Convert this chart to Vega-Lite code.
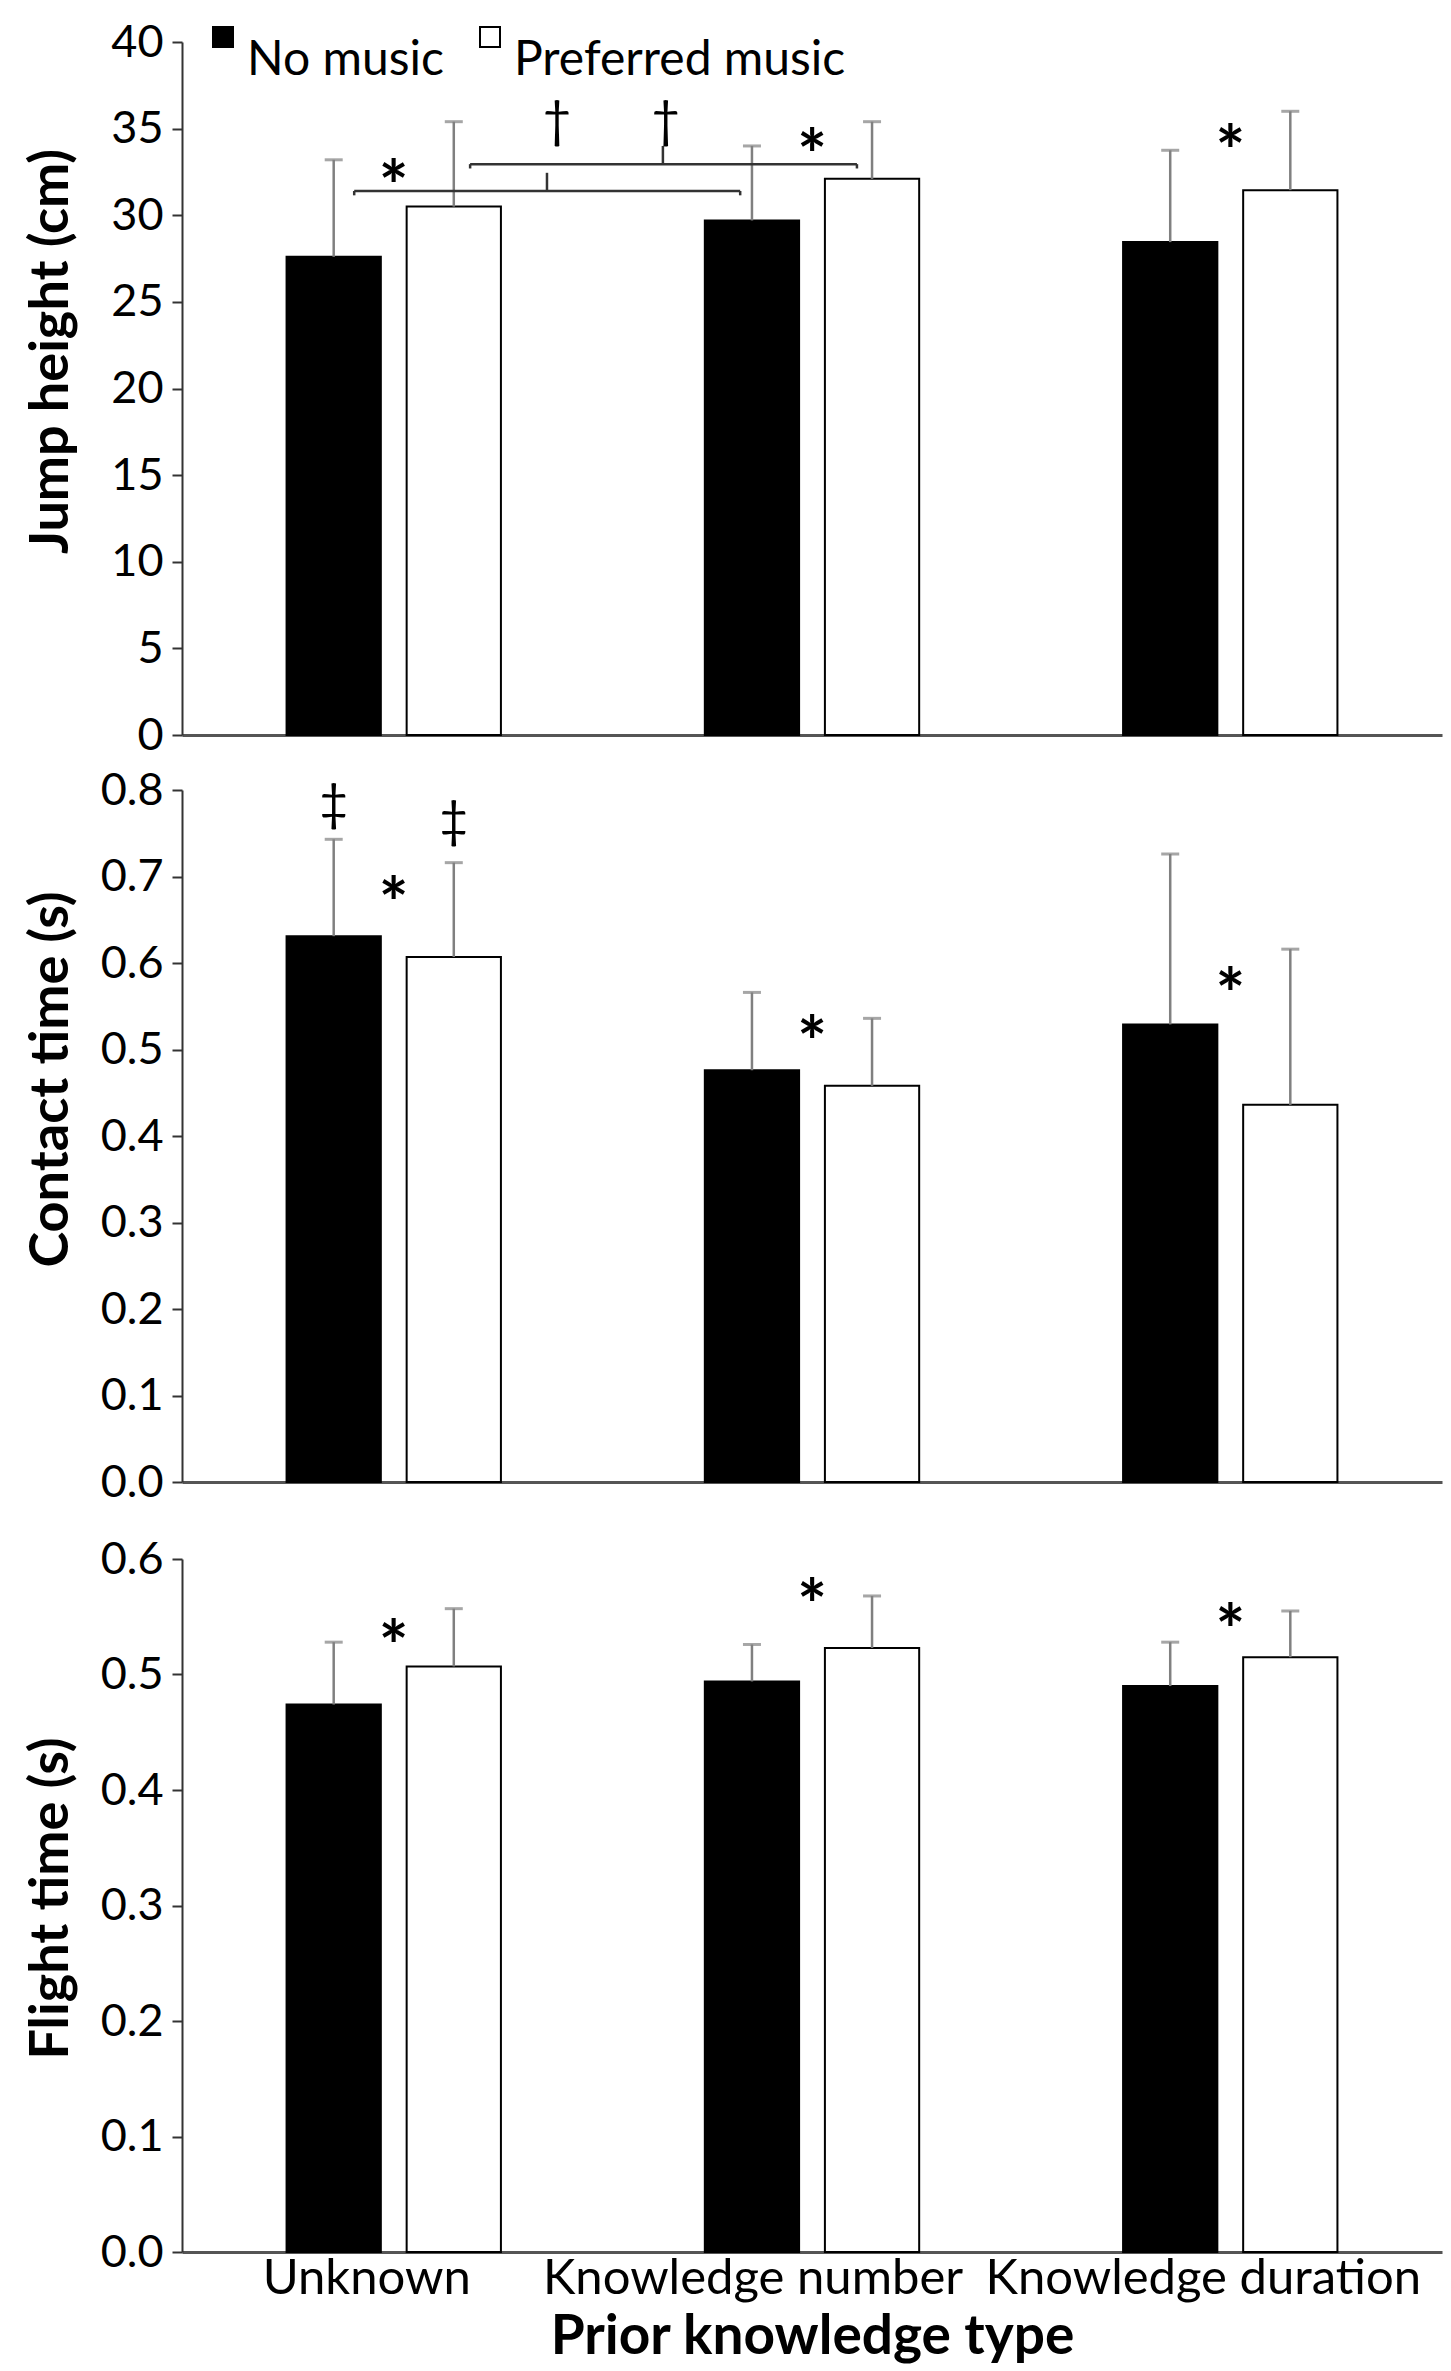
{
  "$schema": "https://vega.github.io/schema/vega-lite/v6.json",
  "description": "Jump height, contact time and flight time by prior knowledge type and music condition",
  "padding": {"left": 23, "top": 13, "right": 5, "bottom": 5},
  "background": "white",
  "config": {
    "view": {"stroke": null},
    "font": "Lato",
    "axis": {
      "labelFont": "Lato",
      "titleFont": "Lato",
      "labelColor": "black",
      "titleColor": "black",
      "domainColor": "#333",
      "tickColor": "#333",
      "grid": false
    },
    "axisY": {
      "labelFontSize": 45,
      "labelPadding": 9,
      "tickSize": 10,
      "tickWidth": 2,
      "domainWidth": 2,
      "titleFontSize": 54,
      "titleFontWeight": "bold",
      "titleBaseline": "alphabetic",
      "titleAngle": -90,
      "titleAlign": "center",
      "titleX": -115
    },
    "axisX": {
      "ticks": false,
      "domainColor": "#555",
      "domainWidth": 3,
      "labelAngle": 0,
      "labelOverlap": false,
      "labelFlush": false,
      "labelLimit": 600
    }
  },
  "datasets": {
    "bars": [
      {"panel": "jump", "group": "Unknown", "cond": "No music", "mean": 27.6, "upper": 33.2},
      {"panel": "jump", "group": "Unknown", "cond": "Preferred music", "mean": 30.5, "upper": 35.4},
      {"panel": "jump", "group": "Knowledge number", "cond": "No music", "mean": 29.7, "upper": 34.0},
      {"panel": "jump", "group": "Knowledge number", "cond": "Preferred music", "mean": 32.1, "upper": 35.4},
      {"panel": "jump", "group": "Knowledge duration", "cond": "No music", "mean": 28.45, "upper": 33.75},
      {"panel": "jump", "group": "Knowledge duration", "cond": "Preferred music", "mean": 31.45, "upper": 36.0},
      {"panel": "contact", "group": "Unknown", "cond": "No music", "mean": 0.631, "upper": 0.743},
      {"panel": "contact", "group": "Unknown", "cond": "Preferred music", "mean": 0.607, "upper": 0.716},
      {"panel": "contact", "group": "Knowledge number", "cond": "No music", "mean": 0.476, "upper": 0.566},
      {"panel": "contact", "group": "Knowledge number", "cond": "Preferred music", "mean": 0.458, "upper": 0.536},
      {"panel": "contact", "group": "Knowledge duration", "cond": "No music", "mean": 0.529, "upper": 0.726},
      {"panel": "contact", "group": "Knowledge duration", "cond": "Preferred music", "mean": 0.436, "upper": 0.616},
      {"panel": "flight", "group": "Unknown", "cond": "No music", "mean": 0.474, "upper": 0.528},
      {"panel": "flight", "group": "Unknown", "cond": "Preferred music", "mean": 0.507, "upper": 0.557},
      {"panel": "flight", "group": "Knowledge number", "cond": "No music", "mean": 0.494, "upper": 0.526},
      {"panel": "flight", "group": "Knowledge number", "cond": "Preferred music", "mean": 0.523, "upper": 0.568},
      {"panel": "flight", "group": "Knowledge duration", "cond": "No music", "mean": 0.490, "upper": 0.528},
      {"panel": "flight", "group": "Knowledge duration", "cond": "Preferred music", "mean": 0.515, "upper": 0.555}
    ],
    "stars": [
      {"panel": "jump", "group": "Unknown", "pos": 32.5, "sym": "*"},
      {"panel": "jump", "group": "Knowledge number", "pos": 34.3, "sym": "*"},
      {"panel": "jump", "group": "Knowledge duration", "pos": 34.5, "sym": "*"},
      {"panel": "contact", "group": "Unknown", "pos": 0.686, "sym": "*"},
      {"panel": "contact", "group": "Knowledge number", "pos": 0.525, "sym": "*"},
      {"panel": "contact", "group": "Knowledge duration", "pos": 0.58, "sym": "*"},
      {"panel": "flight", "group": "Unknown", "pos": 0.537, "sym": "*"},
      {"panel": "flight", "group": "Knowledge number", "pos": 0.572, "sym": "*"},
      {"panel": "flight", "group": "Knowledge duration", "pos": 0.551, "sym": "*"}
    ],
    "barmarks": [
      {"panel": "contact", "group": "Unknown", "cond": "No music", "pos": 0.783, "sym": "‡"},
      {"panel": "contact", "group": "Unknown", "cond": "Preferred music", "pos": 0.763, "sym": "‡"}
    ],
    "brackets": [
      {"x": 0.41, "x2": 1.329, "y": 31.4, "y2": 31.4},
      {"x": 0.41, "x2": 0.41, "y": 31.15, "y2": 31.4},
      {"x": 1.329, "x2": 1.329, "y": 31.15, "y2": 31.4},
      {"x": 0.869, "x2": 0.869, "y": 31.4, "y2": 32.45},
      {"x": 0.686, "x2": 1.607, "y": 32.95, "y2": 32.95},
      {"x": 0.686, "x2": 0.686, "y": 32.7, "y2": 32.95},
      {"x": 1.607, "x2": 1.607, "y": 32.7, "y2": 32.95},
      {"x": 1.145, "x2": 1.145, "y": 32.95, "y2": 34.0}
    ],
    "daggers": [
      {"x": 0.893, "pos": 35.4, "sym": "†"},
      {"x": 1.152, "pos": 35.4, "sym": "†"}
    ]
  },
  "resolve": {"scale": {"fill": "independent"}, "legend": {"fill": "independent"}},
  "spacing": 10,
  "vconcat": [
    {
      "width": 1260,
      "height": 693,
      "resolve": {"scale": {"x": "independent"}, "axis": {"x": "independent"}},
      "layer": [
        {
          "encoding": {
            "x": {
              "field": "group",
              "type": "nominal",
              "sort": ["Unknown", "Knowledge number", "Knowledge duration"],
              "scale": {"paddingInner": 0.4875, "paddingOuter": 0.25},
              "axis": {"title": null, "labels": false, "ticks": true, "tickSize": 22, "tickOpacity": 0}
            }
          },
          "layer": [
            {
              "data": {"name": "bars"},
              "transform": [{"filter": "datum.panel === 'jump'"}],
              "encoding": {
                "xOffset": {
                  "field": "cond",
                  "type": "nominal",
                  "scale": {"paddingInner": 0.215, "paddingOuter": 0}
                }
              },
              "layer": [
                {
                  "mark": {"type": "bar", "stroke": "black", "strokeWidth": 2},
                  "encoding": {
                    "y": {
                      "field": "mean",
                      "type": "quantitative",
                      "scale": {"domain": [0, 40], "nice": false},
                      "axis": {
                        "title": "Jump height (cm)",
                        "values": [0, 5, 10, 15, 20, 25, 30, 35, 40],
                        "titleY": 309
                      }
                    },
                    "fill": {
                      "field": "cond",
                      "type": "nominal",
                      "scale": {"domain": ["No music", "Preferred music"], "range": ["black", "white"]},
                      "legend": {
                        "orient": "none",
                        "legendX": 17,
                        "legendY": -29,
                        "direction": "horizontal",
                        "title": null,
                        "symbolType": "square",
                        "symbolSize": 400,
                        "symbolStrokeColor": "black",
                        "symbolStrokeWidth": 2,
                        "labelFont": "Lato",
                        "labelFontSize": 48,
                        "labelColor": "black",
                        "labelBaseline": "top",
                        "labelOffset": 0,
                        "labelLimit": 600,
                        "columnPadding": 22
                      }
                    }
                  }
                },
                {
                  "mark": {"type": "rule", "color": "#808080", "strokeWidth": 2.5},
                  "encoding": {
                    "y": {"field": "mean", "type": "quantitative"},
                    "y2": {"field": "upper"}
                  }
                },
                {
                  "mark": {"type": "tick", "color": "#808080", "thickness": 3, "size": 18, "orient": "horizontal"},
                  "encoding": {"y": {"field": "upper", "type": "quantitative"}}
                }
              ]
            },
            {
              "data": {"name": "stars"},
              "transform": [{"filter": "datum.panel === 'jump'"}],
              "mark": {"type": "text", "font": "Lato", "fontSize": 70, "fontWeight": "bold", "baseline": "alphabetic", "dy": 40, "color": "black"},
              "encoding": {
                "y": {"field": "pos", "type": "quantitative"},
                "text": {"field": "sym"}
              }
            }
          ]
        },
        {
          "encoding": {
            "x": {"field": "x", "type": "quantitative", "scale": {"domain": [0, 3], "nice": false, "zero": false}, "axis": null}
          },
          "layer": [
            {
              "data": {"name": "brackets"},
              "mark": {"type": "rule", "color": "#333", "strokeWidth": 2.5},
              "encoding": {
                "x2": {"field": "x2"},
                "y": {"field": "y", "type": "quantitative"},
                "y2": {"field": "y2"}
              }
            },
            {
              "data": {"name": "daggers"},
              "mark": {"type": "text", "font": "Lato", "fontSize": 50, "baseline": "alphabetic", "dy": 15, "color": "black"},
              "encoding": {
                "y": {"field": "pos", "type": "quantitative"},
                "text": {"field": "sym"}
              }
            }
          ]
        }
      ]
    },
    {
      "width": 1260,
      "height": 692,
      "encoding": {
        "x": {
          "field": "group",
          "type": "nominal",
          "sort": ["Unknown", "Knowledge number", "Knowledge duration"],
          "scale": {"paddingInner": 0.4875, "paddingOuter": 0.25},
          "axis": {"title": null, "labels": false, "ticks": true, "tickSize": 45, "tickOpacity": 0}
        }
      },
      "layer": [
        {
          "data": {"name": "bars"},
          "transform": [{"filter": "datum.panel === 'contact'"}],
          "encoding": {
            "xOffset": {
              "field": "cond",
              "type": "nominal",
              "scale": {"paddingInner": 0.215, "paddingOuter": 0}
            }
          },
          "layer": [
            {
              "mark": {"type": "bar", "stroke": "black", "strokeWidth": 2},
              "encoding": {
                "y": {
                  "field": "mean",
                  "type": "quantitative",
                  "scale": {"domain": [0, 0.8], "nice": false},
                  "axis": {
                    "title": "Contact time (s)",
                    "values": [0, 0.1, 0.2, 0.3, 0.4, 0.5, 0.6, 0.7, 0.8],
                    "format": ".1f",
                    "titleY": 289
                  }
                },
                "fill": {
                  "field": "cond",
                  "type": "nominal",
                  "scale": {"domain": ["No music", "Preferred music"], "range": ["black", "white"]},
                  "legend": null
                }
              }
            },
            {
              "mark": {"type": "rule", "color": "#808080", "strokeWidth": 2.5},
              "encoding": {
                "y": {"field": "mean", "type": "quantitative"},
                "y2": {"field": "upper"}
              }
            },
            {
              "mark": {"type": "tick", "color": "#808080", "thickness": 3, "size": 18, "orient": "horizontal"},
              "encoding": {"y": {"field": "upper", "type": "quantitative"}}
            }
          ]
        },
        {
          "data": {"name": "stars"},
          "transform": [{"filter": "datum.panel === 'contact'"}],
          "mark": {"type": "text", "font": "Lato", "fontSize": 70, "fontWeight": "bold", "baseline": "alphabetic", "dy": 40, "color": "black"},
          "encoding": {
            "y": {"field": "pos", "type": "quantitative"},
            "text": {"field": "sym"}
          }
        },
        {
          "data": {"name": "barmarks"},
          "transform": [{"filter": "datum.panel === 'contact'"}],
          "mark": {"type": "text", "font": "Lato", "fontSize": 50, "baseline": "alphabetic", "dy": 15, "color": "black"},
          "encoding": {
            "xOffset": {
              "field": "cond",
              "type": "nominal",
              "scale": {"paddingInner": 0.215, "paddingOuter": 0}
            },
            "y": {"field": "pos", "type": "quantitative"},
            "text": {"field": "sym"}
          }
        }
      ]
    },
    {
      "width": 1260,
      "height": 693,
      "encoding": {
        "x": {
          "field": "group",
          "type": "nominal",
          "sort": ["Unknown", "Knowledge number", "Knowledge duration"],
          "scale": {"paddingInner": 0.4875, "paddingOuter": 0.25},
          "axis": {
            "title": "Prior knowledge type",
            "titleFontSize": 55,
            "titleFontWeight": "bold",
            "titlePadding": 7,
            "labelFontSize": 49,
            "labelOffset": {"condition": {"test": "datum.value === 'Knowledge number'", "value": -59}, "value": -27},
            "labelPadding": 2
          }
        }
      },
      "layer": [
        {
          "data": {"name": "bars"},
          "transform": [{"filter": "datum.panel === 'flight'"}],
          "encoding": {
            "xOffset": {
              "field": "cond",
              "type": "nominal",
              "scale": {"paddingInner": 0.215, "paddingOuter": 0}
            }
          },
          "layer": [
            {
              "mark": {"type": "bar", "stroke": "black", "strokeWidth": 2},
              "encoding": {
                "y": {
                  "field": "mean",
                  "type": "quantitative",
                  "scale": {"domain": [0, 0.6], "nice": false},
                  "axis": {
                    "title": "Flight time (s)",
                    "values": [0, 0.1, 0.2, 0.3, 0.4, 0.5, 0.6],
                    "format": ".1f",
                    "titleY": 339
                  }
                },
                "fill": {
                  "field": "cond",
                  "type": "nominal",
                  "scale": {"domain": ["No music", "Preferred music"], "range": ["black", "white"]},
                  "legend": null
                }
              }
            },
            {
              "mark": {"type": "rule", "color": "#808080", "strokeWidth": 2.5},
              "encoding": {
                "y": {"field": "mean", "type": "quantitative"},
                "y2": {"field": "upper"}
              }
            },
            {
              "mark": {"type": "tick", "color": "#808080", "thickness": 3, "size": 18, "orient": "horizontal"},
              "encoding": {"y": {"field": "upper", "type": "quantitative"}}
            }
          ]
        },
        {
          "data": {"name": "stars"},
          "transform": [{"filter": "datum.panel === 'flight'"}],
          "mark": {"type": "text", "font": "Lato", "fontSize": 70, "fontWeight": "bold", "baseline": "alphabetic", "dy": 40, "color": "black"},
          "encoding": {
            "y": {"field": "pos", "type": "quantitative"},
            "text": {"field": "sym"}
          }
        }
      ]
    }
  ]
}
